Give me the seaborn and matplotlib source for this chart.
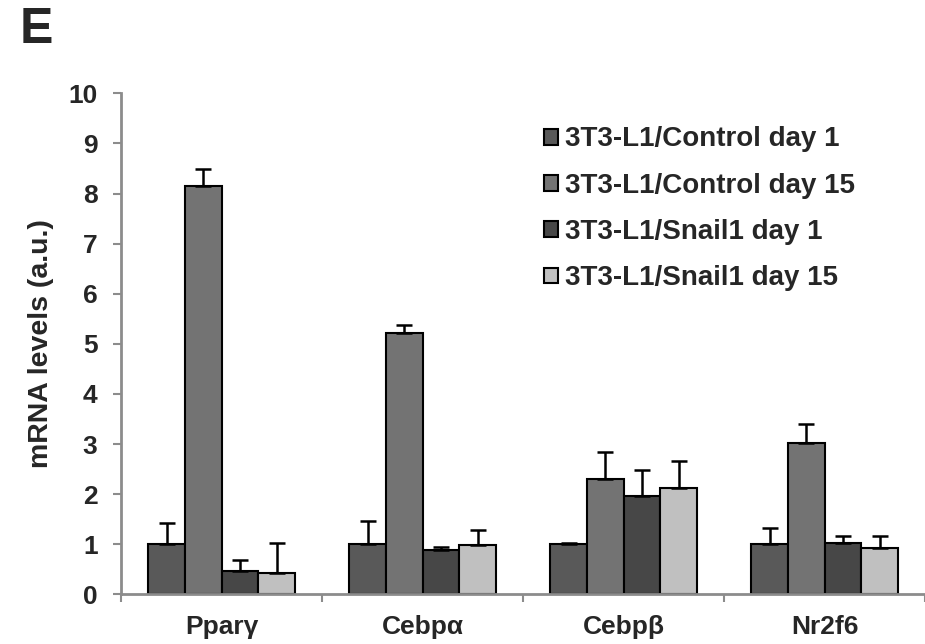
import pandas as pd
import numpy as np
import matplotlib
matplotlib.use("Agg")
import matplotlib.pyplot as plt
import seaborn as sns

# Values
genes = ["Pparγ", "Cebpα", "Cebpβ", "Nr2f6"]
conditions = ["3T3-L1/Control day 1", "3T3-L1/Control day 15",
              "3T3-L1/Snail1 day 1", "3T3-L1/Snail1 day 15"]
ctrl_d1 = [1.00, 1.00, 1.00, 1.00]
ctrl_d15 = [8.15, 5.22, 2.30, 3.03]
snail_d1 = [0.46, 0.88, 1.96, 1.02]
snail_d15 = [0.43, 0.99, 2.12, 0.92]
ctrl_d1_err = [0.43, 0.47, 0.02, 0.32]
ctrl_d15_err = [0.34, 0.15, 0.55, 0.38]
snail_d1_err = [0.23, 0.06, 0.53, 0.14]
snail_d15_err = [0.60, 0.30, 0.54, 0.25]
colors = ["#595959", "#737373", "#474747", "#c0c0c0"]


def build_frame():
    rows = []
    for cond, vals in zip(conditions, [ctrl_d1, ctrl_d15, snail_d1, snail_d15]):
        for g, v in zip(genes, vals):
            rows.append({"gene": g, "condition": cond, "value": v})
    return pd.DataFrame(rows)


def main():
    sns.set_style("white")
    plt.rcParams["font.family"] = ["Liberation Sans", "DejaVu Sans"]
    plt.rcParams["font.weight"] = "bold"

    df = build_frame()
    errs = [ctrl_d1_err, ctrl_d15_err, snail_d1_err, snail_d15_err]

    fig = plt.figure(figsize=(9.25, 6.44), dpi=100)
    ax = fig.add_axes([0.131, 0.077, 0.869, 0.778])

    sns.barplot(data=df, x="gene", y="value", hue="condition",
                order=genes, hue_order=conditions, palette=colors,
                edgecolor="black", linewidth=1.5, width=0.73,
                errorbar=None, ax=ax)

    # upper error bars only
    for cont, err in zip(ax.containers, errs):
        xs = [p.get_x() + p.get_width() / 2 for p in cont.patches]
        hs = [p.get_height() for p in cont.patches]
        ax.errorbar(xs, hs, yerr=[np.zeros(len(err)), err], fmt="none",
                    ecolor="black", elinewidth=1.8, capsize=6, capthick=1.8,
                    zorder=1)

    ax.set_ylim(0, 10)
    ax.set_xlim(-0.5, 3.5)
    ax.set_yticks(range(0, 11))
    ax.set_ylabel("mRNA levels (a.u.)", fontsize=20.5, fontweight="bold", labelpad=10)
    ax.set_xlabel("")

    for side in ["top", "right"]:
        ax.spines[side].set_visible(False)
    for side in ["left", "bottom"]:
        ax.spines[side].set_color("#8c8c8c")
        ax.spines[side].set_linewidth(2)

    ax.tick_params(axis="y", direction="out", length=6, width=1.5,
                   color="#8c8c8c", labelsize=19, pad=11, left=True)
    ax.tick_params(axis="x", which="major", length=0, labelsize=19, pad=15)
    ax.set_xticks([-0.5, 0.5, 1.5, 2.5, 3.5], minor=True)
    ax.tick_params(axis="x", which="minor", direction="out", length=6,
                   width=1.5, color="#8c8c8c", bottom=True)
    for lab in ax.get_xticklabels() + ax.get_yticklabels():
        lab.set_fontweight("bold")

    handles, labels = ax.get_legend_handles_labels()
    ax.legend(handles[:4], labels[:4], loc="upper left",
              bbox_to_anchor=(0.526, 0.934), frameon=False,
              handlelength=0.5, handleheight=0.5,
              handletextpad=0.25, labelspacing=0.73, borderaxespad=0,
              borderpad=0, prop={"weight": "bold", "size": 20})

    fig.text(0.021, 0.933, "E", fontsize=36, fontweight="bold")

    fig.savefig("out.png", dpi=100)


if __name__ == "__main__":
    main()
